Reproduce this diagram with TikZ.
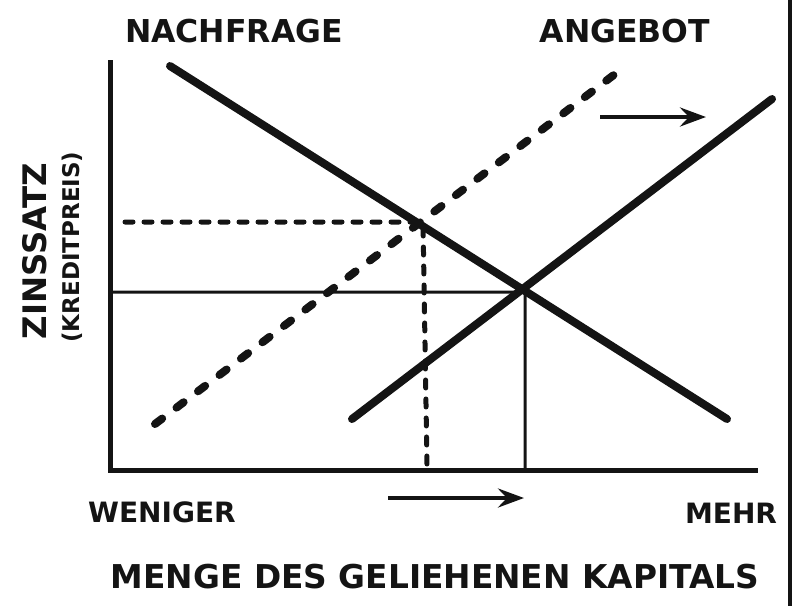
\documentclass[tikz,border=0pt]{standalone}
\usepackage{fontspec}
\setsansfont{DejaVu Sans}
\usetikzlibrary{arrows.meta,positioning}
\definecolor{inkblack}{RGB}{20,20,20}

\begin{document}
\begin{tikzpicture}[x=1pt,y=-1pt,
    lbl/.style={font=\sffamily\bfseries\fontsize{31.5}{36}\selectfont,text=inkblack,inner sep=0pt},
    curve/.style={line width=8pt,line cap=round,draw=inkblack},
    guide/.style={line width=3pt,draw=inkblack},
    shiftarrow/.style={line width=4.5pt,draw=inkblack,-{Stealth[length=26pt,width=19pt,inset=9pt]}}]
  \useasboundingbox (0,0) rectangle (794,606);
  % axes
  \coordinate (ytop) at (110,60);
  \coordinate (orig) at (110,470);
  \coordinate (xend) at (758,470);
  \draw[line width=5pt,draw=inkblack] (ytop) -- (orig) -- (xend);
  % scan border on the right
  \coordinate (bt) at (790,0);
  \coordinate (bb) at (790,606);
  \draw[line width=4pt,draw=inkblack] (bt) -- (bb);
  % demand
  \coordinate (d1) at (170,66);
  \coordinate (d2) at (727,419);
  \draw[curve] (d1) -- (d2);
  % old supply (dashed)
  \coordinate (s1) at (155,424);
  \coordinate (s2) at (619,71);
  \draw[curve,dash pattern=on 9pt off 18pt] (s1) -- (s2);
  % new supply
  \coordinate (n1) at (352,419);
  \coordinate (n2) at (772,99);
  \draw[curve] (n1) -- (n2);
  % equilibria
  \coordinate (old) at (423,222);
  \coordinate (new) at (523,290);
  \coordinate (oldy) at (125,222);
  \coordinate (oldx) at (427,465);
  \coordinate (newy) at (110,292);
  \coordinate (newx) at (525,470);
  \draw[line width=5pt,line cap=round,draw=inkblack,dash pattern=on 8pt off 11pt] (oldy) -- (old) -- (oldx);
  \draw[guide] (newy) -- (new |- newy) -- (newx |- new) -- (newx);
  % shift arrows
  \coordinate (a1) at (600,117);
  \coordinate (a2) at (706,117);
  \draw[shiftarrow] (a1) -- (a2);
  \coordinate (b1) at (388,498);
  \coordinate (b2) at (524,498);
  \draw[shiftarrow] (b1) -- (b2);
  % labels
  \node[lbl] (nachfrage) at (234,31) {NACHFRAGE};
  \node[lbl] (angebot) at (625,31) {ANGEBOT};
  \node[lbl,font=\sffamily\bfseries\fontsize{28}{32}\selectfont] (weniger) at (162,512) {WENIGER};
  \node[lbl,font=\sffamily\bfseries\fontsize{28}{32}\selectfont] (mehr) at (731,513) {MEHR};
  \node[lbl,font=\sffamily\bfseries\fontsize{32.8}{38}\selectfont] (menge) at (435,577) {MENGE DES GELIEHENEN KAPITALS};
  \node[lbl,rotate=90,font=\sffamily\bfseries\fontsize{32.4}{38}\selectfont] (zins) at (35,251) {ZINSSATZ};
  \node[lbl,rotate=90,font=\sffamily\bfseries\fontsize{23}{27}\selectfont] (kredit) at (72,247) {(KREDITPREIS)};
\end{tikzpicture}
\end{document}
